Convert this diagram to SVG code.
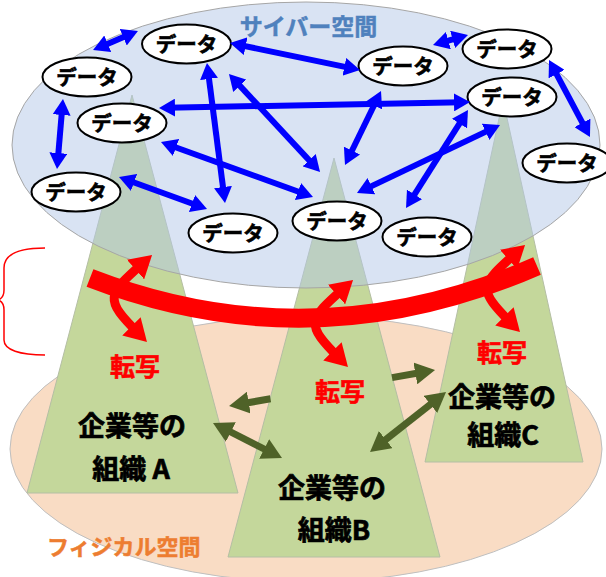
<svg xmlns="http://www.w3.org/2000/svg" width="606" height="577" viewBox="0 0 606 577">
<defs>
<style>
.dn ellipse{fill:#fff;stroke:#000;stroke-width:2}
.dn text{font-family:"Noto Sans CJK JP",sans-serif;font-weight:bold;font-size:20.5px;fill:#000;stroke:#000;stroke-width:0.6;text-anchor:middle}
.tri{fill:#c4d79b;stroke:#b4bea4;stroke-width:1}
.org{font-family:"Noto Sans CJK JP",sans-serif;font-weight:bold;font-size:27px;fill:#000;stroke:#000;stroke-width:0.7;text-anchor:middle}
.tensha{font-family:"Noto Sans CJK JP",sans-serif;font-weight:bold;font-size:25px;fill:#ff0000;stroke:#ff0000;stroke-width:0.6;text-anchor:middle}
.space{font-family:"Noto Sans CJK JP",sans-serif;font-weight:bold;stroke-width:0.5}
.blue{stroke:#0000ff;stroke-width:6;fill:none;marker-start:url(#bh);marker-end:url(#bh)}
.green{stroke:#4f6228;stroke-width:7;fill:none;marker-start:url(#gh);marker-end:url(#gh)}
.red{stroke:#ff0000;stroke-width:9;fill:none;marker-start:url(#rh);marker-end:url(#rh)}
</style>
<marker id="bh" viewBox="0 0 16 18" refX="8" refY="9" markerWidth="16" markerHeight="18" markerUnits="userSpaceOnUse" orient="auto-start-reverse"><path d="M0,0 L16,9 L0,18 z" fill="#0000ff"/></marker>
<marker id="gh" viewBox="0 0 20 22" refX="10" refY="11" markerWidth="20" markerHeight="22" markerUnits="userSpaceOnUse" orient="auto-start-reverse"><path d="M0,0 L20,11 L0,22 z" fill="#4f6228"/></marker>
<marker id="rh" viewBox="0 0 22 26" refX="11" refY="13" markerWidth="22" markerHeight="26" markerUnits="userSpaceOnUse" orient="auto-start-reverse"><path d="M0,0 L22,13 L0,26 z" fill="#ff0000"/></marker>
</defs>

<g id="physical">
<ellipse cx="306" cy="449" rx="296" ry="133" fill="#f9dcc4" stroke="#bfbfbf" stroke-width="1"/>
</g>

<g id="orgA"><polygon class="tri" points="132,95 238,493 27,493"/></g>
<g id="orgB"><polygon class="tri" points="334,158 440,557 228,557"/></g>
<g id="orgC"><polygon class="tri" points="503,100 583,462 425,462"/></g>

<g id="cyber">
<ellipse cx="306" cy="145" rx="294" ry="143" fill="#b4c7e7" fill-opacity="0.5" stroke="#a6a6a6" stroke-width="1"/>
</g>

<g id="data1" class="dn"><ellipse cx="186.5" cy="44" rx="44.5" ry="19.5"/><text x="186.5" y="51.5">データ</text></g>
<g id="data2" class="dn"><ellipse cx="87" cy="77" rx="44.5" ry="19.5"/><text x="87" y="84.5">データ</text></g>
<g id="data3" class="dn"><ellipse cx="122" cy="123" rx="44.5" ry="19.5"/><text x="122" y="130.5">データ</text></g>
<g id="data4" class="dn"><ellipse cx="76" cy="192" rx="44.5" ry="19.5"/><text x="76" y="199.5">データ</text></g>
<g id="data5" class="dn"><ellipse cx="233" cy="233" rx="44.5" ry="19.5"/><text x="233" y="240.5">データ</text></g>
<g id="data6" class="dn"><ellipse cx="403" cy="66" rx="44.5" ry="19.5"/><text x="403" y="73.5">データ</text></g>
<g id="data7" class="dn"><ellipse cx="507" cy="49" rx="44.5" ry="19.5"/><text x="507" y="56.5">データ</text></g>
<g id="data8" class="dn"><ellipse cx="512" cy="97" rx="44.5" ry="19.5"/><text x="512" y="104.5">データ</text></g>
<g id="data9" class="dn"><ellipse cx="567" cy="163" rx="44.5" ry="19.5"/><text x="567" y="170.5">データ</text></g>
<g id="data10" class="dn"><ellipse cx="337" cy="221" rx="44.5" ry="19.5"/><text x="337" y="228.5">データ</text></g>
<g id="data11" class="dn"><ellipse cx="427" cy="237" rx="44.5" ry="19.5"/><text x="427" y="244.5">データ</text></g>

<g id="connectors">
<path d="M90,278 Q313,364 537,266" fill="none" stroke="#ff0000" stroke-width="19"/>
<path class="red" d="M143.8,262.3 C106.3,295.3 103.9,298.9 139.2,334.2"/>
<path class="red" d="M344.8,287.3 C307.3,320.3 304.9,323.9 340.2,359.2"/>
<path class="red" d="M516.8,252.3 C479.3,285.3 476.9,288.9 512.2,324.2"/>

<path class="green" d="M238.9,404.3 L270.5,398.8 M392,377.6 L425.2,371.7"/>
<path class="green" d="M221.9,427.5 L273.1,453.5"/>
<path class="green" d="M377.9,445.8 L438.2,398.2"/>

<path class="blue" d="M100.4,46.9 L130.6,34.1"/>
<path class="blue" d="M62.3,107 L57.7,161"/>
<path class="blue" d="M237.8,44.6 L352.2,68.4"/>
<path class="blue" d="M208,71 L224,195"/>
<path class="blue" d="M234.4,79.9 L314.6,166.1"/>
<path class="blue" d="M167,107.8 L462,102.2"/>
<path class="blue" d="M168.5,144.7 L305.5,194.3"/>
<path class="blue" d="M126.5,179.7 L199.5,206.3"/>
<path class="blue" d="M377.5,98.2 L348.5,157.8"/>
<path class="blue" d="M463.7,116.8 L410.3,201.2"/>
<path class="blue" d="M492.8,128.4 L364.2,189.6"/>
<path class="blue" d="M440.7,42.8 L460.3,37.2"/>
<path class="blue" d="M552.8,67.1 L586.2,129.9"/>
</g>

<g id="brace">
<path d="M45,248 C20,248 4,254 4,268 L4,290 Q4,298 -2,300 Q4,302 4,310 L4,340 C4,350 20,355 45,355" fill="none" stroke="#ff0000" stroke-width="1.5"/>
</g>

<g id="labels">
<text class="tensha" x="135" y="375.5">転写</text>
<text class="tensha" x="340" y="400.5">転写</text>
<text class="tensha" x="502" y="361.5">転写</text>
<text class="org" x="132" y="436">企業等の</text>
<text class="org" x="131" y="479">組織 A</text>
<text class="org" x="332" y="498">企業等の</text>
<text class="org" x="334" y="540">組織B</text>
<text class="org" x="502" y="406.5">企業等の</text>
<text class="org" x="503" y="445">組織C</text>
<text class="space" x="308.5" y="35" font-size="23" fill="#4f81bd" stroke="#4f81bd" text-anchor="middle">サイバー空間</text>
<text class="space" x="47" y="555" font-size="22" fill="#ed7d31" stroke="#ed7d31">フィジカル空間</text>
</g>
</svg>
